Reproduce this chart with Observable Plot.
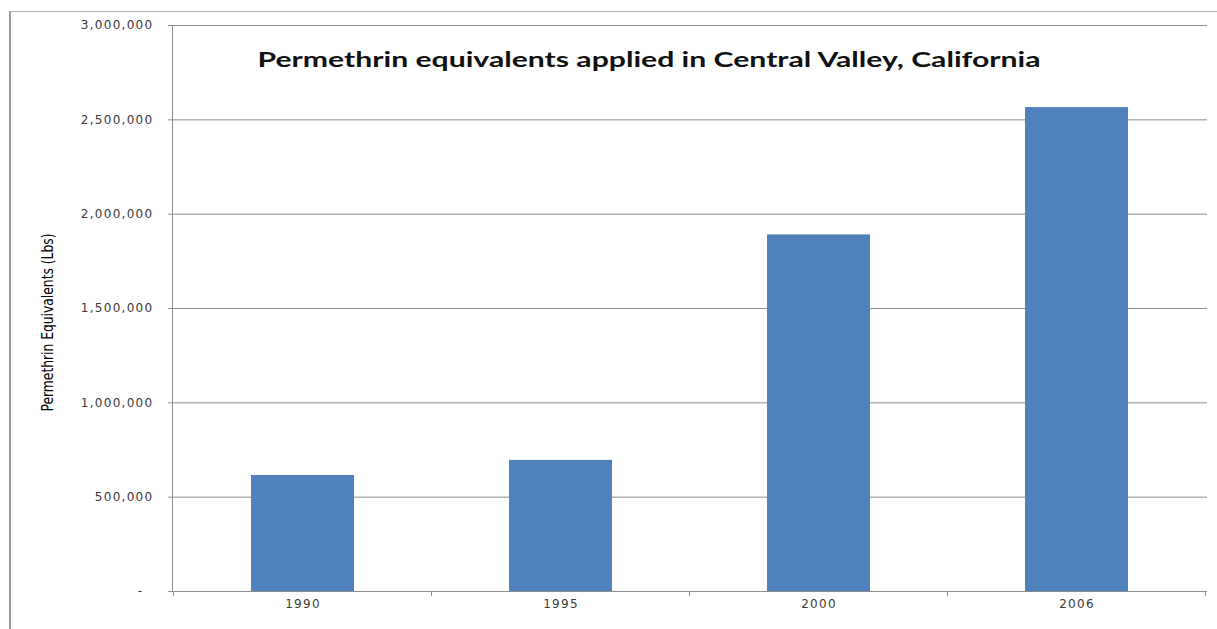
<!DOCTYPE html>
<html><head><meta charset="utf-8">
<script src="https://cdn.jsdelivr.net/npm/d3@7"></script>
<script src="https://cdn.jsdelivr.net/npm/@observablehq/plot@0.6"></script>
<style>
body{margin:0;background:#fff;}
#wrap{position:relative;width:1217px;height:629px;overflow:hidden}
#border{position:absolute;left:9px;top:11px;width:1220px;height:640px;border-left:2px solid #9a9a9a;border-top:1.5px solid #b0b0b0;pointer-events:none}
g[aria-label="y-axis tick label"], g[aria-label="x-axis tick label"]{letter-spacing:1.3px}
</style></head><body>
<div id="wrap"><div id="chart"></div><div id="border"></div></div>
<script>
const years = ["1990", "1995", "2000", "2006"];
const pounds = [615000, 695000, 1890000, 2565000];
const yTicks = [0, 500000, 1000000, 1500000, 2000000, 2500000, 3000000];
const title = "Permethrin equivalents applied in Central Valley, California";
const yLabel = "Permethrin Equivalents (Lbs)";

const data = years.map((year, i) => ({year, lbs: pounds[i]}));
const fmt = d => d === 0 ? "-\u00a0\u00a0" : d3.format(",")(d);
const gridColor = "#8c8c8c";

const fig = Plot.plot({
  width: 1217, height: 629,
  marginLeft: 172, marginRight: 10, marginTop: 25, marginBottom: 38,
  style: {fontFamily: "DejaVu Sans", fontSize: "12px", background: "transparent"},
  x: {domain: years, paddingInner: 0.6, paddingOuter: 0.3, label: null},
  y: {domain: [0, 3000000], label: null},
  marks: [
    Plot.gridY(yTicks, {stroke: gridColor, strokeOpacity: 1}),
    Plot.barY(data, {x: "year", y: "lbs", fill: "#4F81BD"}),
    Plot.frame({anchor: "left", stroke: gridColor}),
    Plot.ruleY([0], {stroke: gridColor}),
    Plot.axisY(yTicks, {tickSize: 4, tickPadding: 15, tickFormat: fmt, stroke: gridColor, fill: "#3a3a3a", label: null}),
    Plot.axisX({tickSize: 0, tickPadding: 8, fill: "#3a3a3a", label: null}),
    Plot.text([yLabel], {frameAnchor: "left", textAnchor: "middle", lineAnchor: "middle", rotate: -90, dx: -125, dy: 14, fontSize: 16, fontFamily: "DejaVu Sans Condensed", fill: "#000"}),
    Plot.text([title], {frameAnchor: "top", textAnchor: "middle", lineAnchor: "middle", dx: -41, dy: 35, fontSize: 20, fontWeight: "bold", fontFamily: "Lato", fill: "#111"})
  ]
});
document.getElementById("chart").append(fig);

// stretch texts to match the reference's horizontally stretched rendering
const texts = d3.select(fig).selectAll("text");
texts.filter(function() { return this.textContent === title; })
  .attr("textLength", 783).attr("lengthAdjust", "spacingAndGlyphs");
texts.filter(function() { return this.textContent === yLabel; })
  .attr("textLength", 178).attr("lengthAdjust", "spacingAndGlyphs");

// category-boundary tick marks below the x axis, derived from the band scale
const xs = fig.scale("x");
const ys = fig.scale("y");
const gap = (xs.step - xs.bandwidth) / 2;
const bounds = years.map(y => xs.apply(y) - gap).concat([xs.apply(years[years.length - 1]) + xs.bandwidth + gap]);
const y0 = ys.apply(0);
d3.select(fig).append("g").selectAll("line").data(bounds).join("line")
  .attr("x1", d => d).attr("x2", d => d)
  .attr("y1", y0).attr("y2", y0 + 5)
  .attr("stroke", gridColor);
</script>
</body></html>
